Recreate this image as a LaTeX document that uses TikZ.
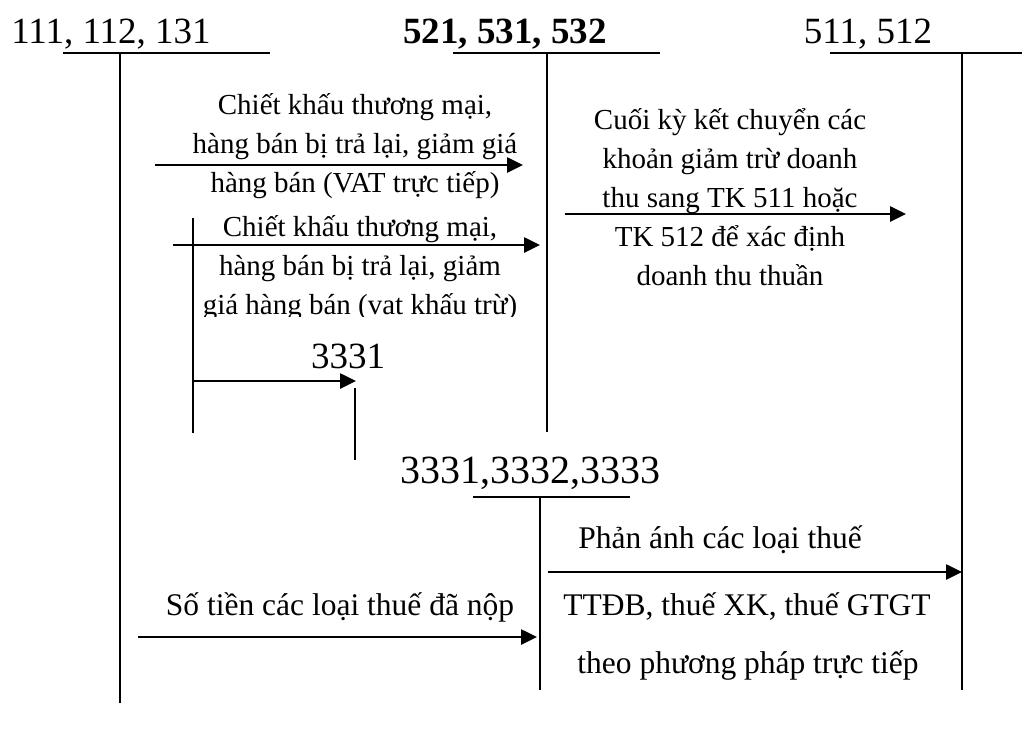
\documentclass[tikz,border=0pt]{standalone}
\usepackage{fontspec}
\setmainfont{Liberation Serif}
\usetikzlibrary{arrows.meta}
\begin{document}
\begin{tikzpicture}[x=1pt,y=-1pt,
  tline/.style={line width=1.6pt},
  flow/.style={line width=2.6pt,-{Triangle[length=16pt,width=15pt]}},
  lbl/.style={font=\fontsize{29}{39}\selectfont, align=center, inner sep=0pt},
  blbl/.style={font=\fontsize{31.5}{40}\selectfont, inner sep=0pt},
  ttl/.style={font=\fontsize{37}{40}\selectfont, inner sep=0pt, anchor=base}]
\useasboundingbox (0,0) rectangle (1022,731);
% titles
\node[ttl] (tA) at (111,43) {111, 112, 131};
\node[ttl,font=\fontsize{37}{40}\selectfont\bfseries] (tB) at (505,43) {521, 531, 532};
\node[ttl] (tC) at (868,43) {511, 512};
\node[ttl] (tD) at (348,368) {3331};
\node[ttl,font=\fontsize{40}{44}\selectfont] (tE) at (530,483) {3331,3332,3333};
% T-account coordinates
\coordinate (aL) at (63,53);  \coordinate (aR) at (270,53);
\coordinate (aT) at (120,53); \coordinate (aB) at (120,703);
\coordinate (bL) at (453,53); \coordinate (bR) at (660,53);
\coordinate (bT) at (547,53); \coordinate (bB) at (547,432);
\coordinate (cL) at (830,53); \coordinate (cR) at (1022,53);
\coordinate (cT) at (962,53); \coordinate (cB) at (962,690);
\coordinate (dT) at (193,218); \coordinate (dB) at (193,433);
\coordinate (eT) at (355,388); \coordinate (eB) at (355,460);
\coordinate (fL) at (473,497); \coordinate (fR) at (630,497);
\coordinate (fT) at (540,497); \coordinate (fB) at (540,690);
\draw[tline] (aL) -- (aR) (aT) -- (aB);
\draw[tline] (bL) -- (bR) (bT) -- (bB);
\draw[tline] (cL) -- (cR) (cT) -- (cB);
\draw[tline] (dT) -- (dB);
\draw[tline] (eT) -- (eB);
\draw[tline] (fL) -- (fR) (fT) -- (fB);
% arrow ends
\coordinate (s1) at (155,165); \coordinate (e1) at (523,165);
\coordinate (s2) at (173,245); \coordinate (e2) at (540,245);
\coordinate (s3) at (193,381); \coordinate (e3) at (356,381);
\coordinate (s4) at (565,214); \coordinate (e4) at (906,214);
\coordinate (s5) at (548,572); \coordinate (e5) at (962,572);
\coordinate (s6) at (138,637); \coordinate (e6) at (537,637);
\draw[flow] (s1) -- (e1);
\draw[flow] (s2) -- (e2);
\draw[flow] (s3) -- (e3);
\draw[flow] (s4) -- (e4);
\draw[flow] (s5) -- (e5);
\draw[flow] (s6) -- (e6);
% labels
\node[lbl] (l1) at (355,146) {Chiết khấu thương mại,\\hàng bán bị trả lại, giảm giá\\hàng bán (VAT trực tiếp)};
\begin{scope}
\clip (150,205) rectangle (560,316);
\node[lbl] (l2) at (360,268) {Chiết khấu thương mại,\\hàng bán bị trả lại, giảm\\giá hàng bán (vat khấu trừ)};
\end{scope}
\node[lbl] (l4) at (730,197) {Cuối kỳ kết chuyển các\\khoản giảm trừ doanh\\thu sang TK 511 hoặc\\TK 512 để xác định\\doanh thu thuần};
\node[blbl] (l5a) at (720,540) {Phản ánh các loại thuế};
\node[blbl] (l5b) at (747,607) {TTĐB, thuế XK, thuế GTGT};
\node[blbl] (l5c) at (748,665) {theo phương pháp trực tiếp};
\node[blbl] (l6) at (340,607) {Số tiền các loại thuế đã nộp};
\end{tikzpicture}
\end{document}
